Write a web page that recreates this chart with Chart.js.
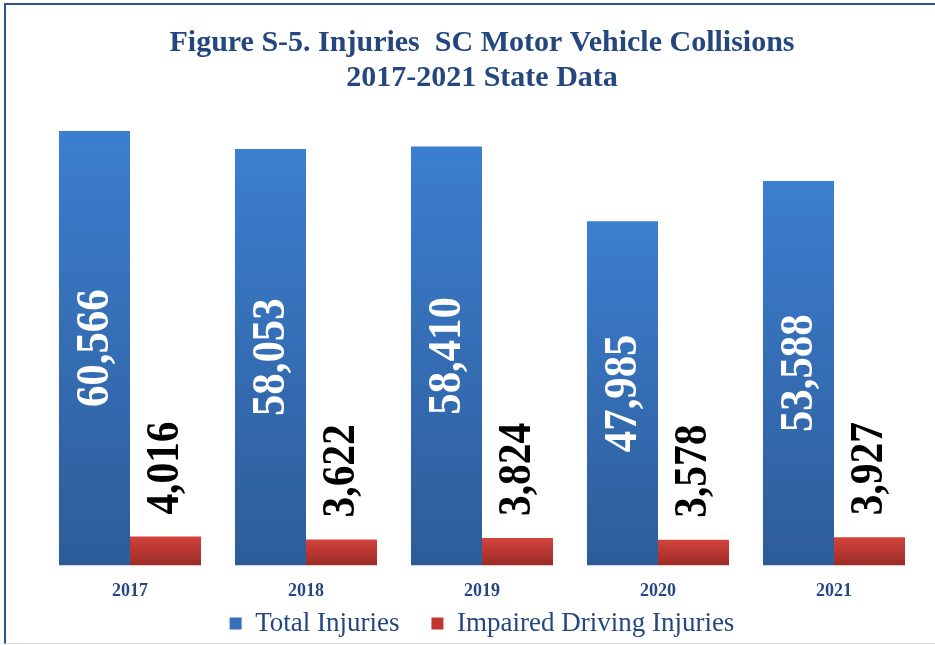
<!DOCTYPE html>
<html>
<head>
<meta charset="utf-8">
<script src="https://cdn.jsdelivr.net/npm/chart.js@4.4.1/dist/chart.umd.min.js"></script>
<style>
  html, body { margin: 0; padding: 0; background: #fff; }
  #wrap { position: relative; width: 935px; height: 645px; }
  #frame {
    position: absolute; left: 4px; top: 3px; right: 0; bottom: 1px;
    border-top: 2px solid #2c5590; border-left: 2px solid #2c5590;
    border-bottom: 1px solid #d6dde6; pointer-events: none;
  }
  canvas { position: absolute; left: 0; top: 0; }
</style>
</head>
<body>
<div id="wrap">
  <canvas id="chart" width="935" height="645"></canvas>
  <div id="frame"></div>
</div>
<script>
/* ====== data ====== */
const years = ["2017", "2018", "2019", "2020", "2021"];
const totalInjuries = [60566, 58053, 58410, 47985, 53588];
const impairedInjuries = [4016, 3622, 3824, 3578, 3927];
const seriesNames = ["Total Injuries", "Impaired Driving Injuries"];
const titleLines = ["Figure S-5. Injuries  SC Motor Vehicle Collisions", "2017-2021 State Data"];

const SERIF = "'Liberation Serif', 'Times New Roman', serif";
const NAVY = "#24477f";

/* ====== per-bar vertical gradient ====== */
function vGrad(ctx, top, bottom) {
  const { chart } = ctx;
  const y = chart.scales.y;
  if (!chart.chartArea || !y || ctx.raw == null) return top;
  const y0 = y.getPixelForValue(ctx.raw);
  const y1 = y.getPixelForValue(0);
  const g = chart.ctx.createLinearGradient(0, y0, 0, y1);
  g.addColorStop(0, top);
  g.addColorStop(1, bottom);
  return g;
}

/* ====== rotated value labels ====== */
const valueLabels = {
  id: "valueLabels",
  afterDatasetsDraw(chart) {
    const c = chart.ctx;
    chart.data.datasets.forEach((ds, di) => {
      const meta = chart.getDatasetMeta(di);
      meta.data.forEach((bar, i) => {
        const txt = ds.data[i].toLocaleString("en-US");
        c.save();
        c.font = "bold 46px " + SERIF;
        c.textBaseline = "middle";
        if (di === 0) {
          c.translate(bar.x + 2, (bar.y + bar.base) / 2);
          c.rotate(-Math.PI / 2);
          c.scale(0.93, 1);
          c.fillStyle = "#ffffff";
          c.textAlign = "center";
        } else {
          c.translate(bar.x + 1, bar.y - 22);
          c.rotate(-Math.PI / 2);
          c.scale(0.9, 1);
          c.fillStyle = "#000000";
          c.textAlign = "left";
        }
        c.fillText(txt, 0, 0);
        c.restore();
      });
    });
  }
};

/* legend keeps wide item spacing but sits closer under the year labels */
const liftLegend = {
  id: "liftLegend",
  afterLayout(chart) {
    const lg = chart.legend;
    if (!lg) return;
    lg.top -= 31;
    lg.bottom -= 31;
  }
};

new Chart(document.getElementById("chart"), {
  type: "bar",
  data: {
    labels: years,
    datasets: [
      {
        label: seriesNames[0],
        data: totalInjuries,
        backgroundColor: (ctx) => vGrad(ctx, "#3c7ecf", "#2d5c99")
      },
      {
        label: seriesNames[1],
        data: impairedInjuries,
        backgroundColor: (ctx) => vGrad(ctx, "#d4433c", "#9a2b27")
      }
    ]
  },
  options: {
    responsive: false,
    animation: false,
    layout: { padding: { left: 42, right: 13, top: 0, bottom: -33 } },
    categoryPercentage: 0.807,
    barPercentage: 1,
    plugins: {
      title: {
        display: true,
        text: titleLines,
        color: NAVY,
        font: { family: SERIF, size: 30, weight: "bold", lineHeight: 1.17 },
        padding: { top: 26, bottom: 3 }
      },
      legend: {
        position: "bottom",
        labels: {
          color: NAVY,
          font: { family: SERIF, size: 27 },
          boxWidth: 12,
          boxHeight: 12,
          padding: 32,
          generateLabels(chart) {
            return chart.data.datasets.map((ds, i) => ({
              text: ds.label,
              fillStyle: i === 0 ? "#3570b8" : "#c0362f",
              strokeStyle: "transparent",
              lineWidth: 0,
              datasetIndex: i,
              fontColor: NAVY
            }));
          }
        }
      },
      tooltip: { enabled: false }
    },
    scales: {
      x: {
        grid: { display: false },
        border: { display: false },
        ticks: { color: NAVY, font: { family: SERIF, size: 18, weight: "bold" }, padding: 7 }
      },
      y: {
        display: false,
        min: 0,
        max: 65000
      }
    }
  },
  plugins: [valueLabels, liftLegend]
});
</script>
</body>
</html>
